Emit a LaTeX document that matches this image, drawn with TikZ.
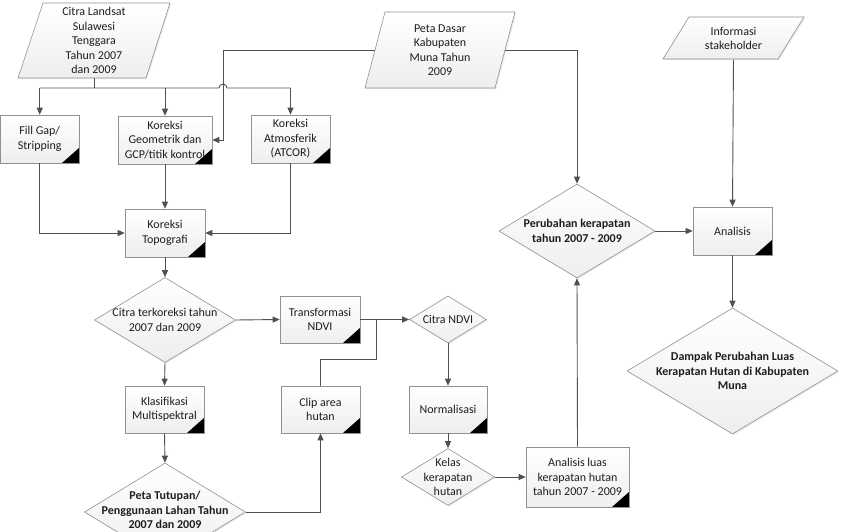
\documentclass[tikz,border=0pt]{standalone}
\usepackage{fontspec}
\setmainfont{Carlito}
\usetikzlibrary{shapes.geometric,arrows.meta,calc,shadows}
\definecolor{linegray}{RGB}{80,80,80}
\definecolor{bordergray}{RGB}{145,145,145}
\definecolor{fillgray}{RGB}{238,238,238}
\definecolor{txt}{RGB}{30,30,30}
\newcommand\fsz{\fontsize{12}{14.5}\selectfont}
\tikzset{
  shapefill/.style={draw=bordergray, line width=0.6pt, top color=white, bottom color=fillgray,
    drop shadow={opacity=0.15, shadow xshift=1.2pt, shadow yshift=-1.2pt}},
  base/.style={shapefill, inner sep=0pt, font=\fsz, align=center, text=txt},
  proc/.style={base, rectangle,
    path picture={\fill[black] (path picture bounding box.south east) -- ++(-17pt,0pt) -- ++(17pt,15pt) -- cycle;}},
  dec/.style={base, diamond},
  lbl/.style={font=\fsz, align=center, inner sep=0pt, text=txt},
  blbl/.style={lbl, font=\fsz\bfseries},
  ln/.style={draw=linegray, line width=0.9pt},
  arr/.style={ln, -{Triangle[length=7pt,width=6pt]}},
}
\begin{document}
\begin{tikzpicture}[x=1pt,y=-1pt]
\useasboundingbox (0,0) rectangle (844,532);
% input / output shapes (parallelograms)
\path[shapefill] (18,78) -- (43,3) -- (170,3) -- (146,78) -- cycle;
\node[lbl, minimum width=127pt, minimum height=75pt] (landsat) at (94,40.5)
  {Citra Landsat\\Sulawesi\\Tenggara\\Tahun 2007\\dan 2009};
\path[shapefill] (365,88) -- (385,12) -- (515,12) -- (495,88) -- cycle;
\node[lbl, minimum width=130pt, minimum height=76pt] (peta) at (440,50)
  {Peta Dasar\\Kabupaten\\Muna Tahun\\2009};
\path[shapefill] (663,59) -- (689,17) -- (804,17) -- (778,59) -- cycle;
\node[lbl, minimum width=115pt, minimum height=42pt] (info) at (733.5,38.5)
  {Informasi\\stakeholder};
% process boxes
\node[proc, minimum width=78.5pt, minimum height=48pt] (fill) at (39.75,139) {Fill Gap/\\Stripping};
\node[proc, minimum width=94pt, minimum height=48pt] (geom) at (165,140) {Koreksi\\Geometrik dan\\GCP/titik kontrol};
\node[proc, minimum width=79pt, minimum height=48pt] (atmos) at (290.5,139) {Koreksi\\Atmosferik\\(ATCOR)};
\node[proc, minimum width=80pt, minimum height=48pt] (topo) at (165,233) {Koreksi\\Topografi};
\node[proc, minimum width=80pt, minimum height=47pt] (trans) at (320,319.5) {Transformasi\\NDVI};
\node[proc, minimum width=79pt, minimum height=47pt] (klas) at (164.5,409.5) {Klasifikasi\\Multispektral};
\node[proc, minimum width=79pt, minimum height=47pt] (clip) at (320.5,409.5) {Clip area\\hutan};
\node[proc, minimum width=78pt, minimum height=47pt] (norm) at (448,409.5) {Normalisasi};
\node[proc, minimum width=79pt, minimum height=48pt] (analisis) at (732.5,231) {Analisis};
\node[proc, minimum width=103pt, minimum height=60pt] (luas) at (577.5,477) {Analisis luas\\kerapatan hutan\\tahun 2007 - 2009};
% decisions
\node[dec, minimum width=141pt, minimum height=85pt,
  label={[lbl]center:{Citra terkoreksi tahun\\2007 dan 2009}}] (terkor) at (165,320) {};
\node[dec, minimum width=77pt, minimum height=47pt,
  label={[lbl]center:{Citra NDVI}}] (ndvi) at (448,319.5) {};
\node[dec, minimum width=161pt, minimum height=98pt,
  label={[blbl, yshift=2pt]center:{Peta Tutupan/\\Penggunaan Lahan Tahun\\2007 dan 2009}}] (tutupan) at (165,512) {};
\node[dec, minimum width=93pt, minimum height=57pt,
  label={[lbl]center:{Kelas\\kerapatan\\hutan}}] (kelas) at (448,477) {};
\node[dec, minimum width=156pt, minimum height=94pt,
  label={[blbl]center:{Perubahan kerapatan\\tahun 2007 - 2009}}] (perub) at (577,231) {};
\node[dec, minimum width=211pt, minimum height=126pt,
  label={[blbl]center:{Dampak Perubahan Luas\\Kerapatan Hutan di Kabupaten\\Muna}}] (dampak) at (732.5,371) {};
% helper coordinates
\coordinate (bus) at (94,88);
\coordinate (pc) at (223,50);
\coordinate (cj) at (376,359);
% connectors
\draw[ln] (landsat.south) -- (landsat.south |- bus);
\draw[ln] (fill.north |- bus) -- ($(pc |- bus)+(-4pt,0pt)$) arc[start angle=180,end angle=0,radius=4pt] -- (atmos.north |- bus);
\draw[arr] (fill.north |- bus) -- (fill.north);
\draw[arr] (geom.north |- bus) -- (geom.north);
\draw[arr] (atmos.north |- bus) -- (atmos.north);
\draw[arr] (peta.west) -- (pc) |- (geom.east);
\draw[arr] (peta.east) -| (perub.north);
\draw[arr] (fill.south) |- (topo.west);
\draw[arr] (geom.south) -- (topo.north);
\draw[arr] (atmos.south) |- (topo.east);
\draw[arr] (topo.south) -- (terkor.north);
\draw[arr] (terkor.east) -- (trans.west);
\draw[arr] (terkor.south) -- (klas.north);
\draw[arr] (klas.south) -- (tutupan.north);
\draw[arr] (trans.east) -- (ndvi.west);
\draw[ln] (clip.north) |- (cj) -- (cj |- trans.east);
\draw[arr] (tutupan.east) -| (clip.south);
\draw[arr] (ndvi.south) -- (norm.north);
\draw[arr] (norm.south) -- (kelas.north);
\draw[arr] (kelas.east) -- (luas.west);
\draw[arr] (luas.north) -- (perub.south);
\draw[arr] (perub.east) -- (analisis.west);
\draw[arr] (info.south) -- (analisis.north);
\draw[arr] (analisis.south) -- (dampak.north);
\end{tikzpicture}
\end{document}
